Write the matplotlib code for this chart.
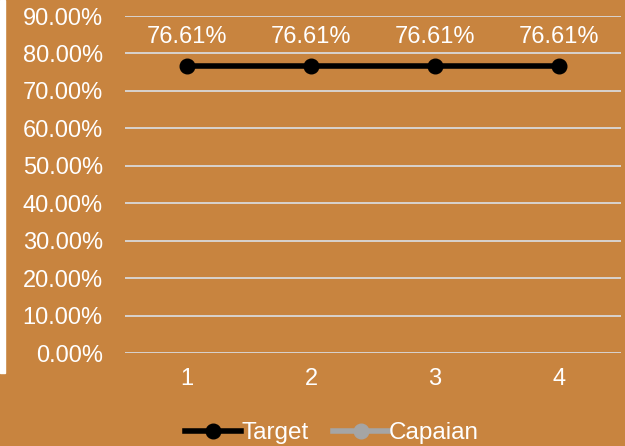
import matplotlib.pyplot as plt
import matplotlib.patches as mpatches
import numpy as np

# data
categories = ['1', '2', '3', '4']
target = [0.7661, 0.7661, 0.7661, 0.7661]
capaian = [np.nan, np.nan, np.nan, np.nan]

bg = '#C8843F'
txt = '#FFFFFF'
fs = 17
plt.rcParams['font.family'] = ['Liberation Sans', 'DejaVu Sans']

fig = plt.figure(figsize=(6.25, 4.46), dpi=100, facecolor=bg)
# white strip on the left edge
fig.patches.append(mpatches.Rectangle((0, 73 / 446), 5 / 625, 373 / 446,
                                      transform=fig.transFigure, color='white', zorder=0))
ax = fig.add_axes([125 / 625, 93 / 446, 496 / 625, 337 / 446])
ax.set_facecolor(bg)

x = np.arange(len(categories))
ax.plot(x, target, color='black', lw=4, marker='o', ms=10.5, label='Target', zorder=3)
ax.plot(x, capaian, color='#A5A5A5', lw=4, marker='o', ms=10.5, label='Capaian', zorder=3)

for xi, v in zip(x, target):
    ax.annotate(f'{v * 100:.2f}%', (xi, v), xytext=(0, 21), textcoords='offset points',
                ha='center', va='center', color=txt, fontsize=fs)

ax.set_xlim(-0.5, len(categories) - 0.5)
ax.set_ylim(0, 0.9)
ax.set_yticks(np.arange(0, 0.91, 0.1))
ax.set_yticklabels([f'{t * 100:.2f}%' for t in np.arange(0, 0.91, 0.1)])
ax.set_xticks(x)
ax.set_xticklabels(categories)
ax.tick_params(colors=txt, labelsize=fs, length=0)
ax.tick_params(axis='y', pad=16)
ax.tick_params(axis='x', pad=11)
ax.grid(axis='y', color='#D9D9D9', lw=1.3)
ax.set_axisbelow(True)
for s in ax.spines.values():
    s.set_visible(False)

leg = fig.legend(loc='center', bbox_to_anchor=(332 / 625, 13 / 446), ncol=2, frameon=False,
                 fontsize=17.5, labelcolor=txt, handlelength=2.3, handletextpad=0.02,
                 columnspacing=1.0)

fig.savefig('out.png', dpi=100, facecolor=bg)
